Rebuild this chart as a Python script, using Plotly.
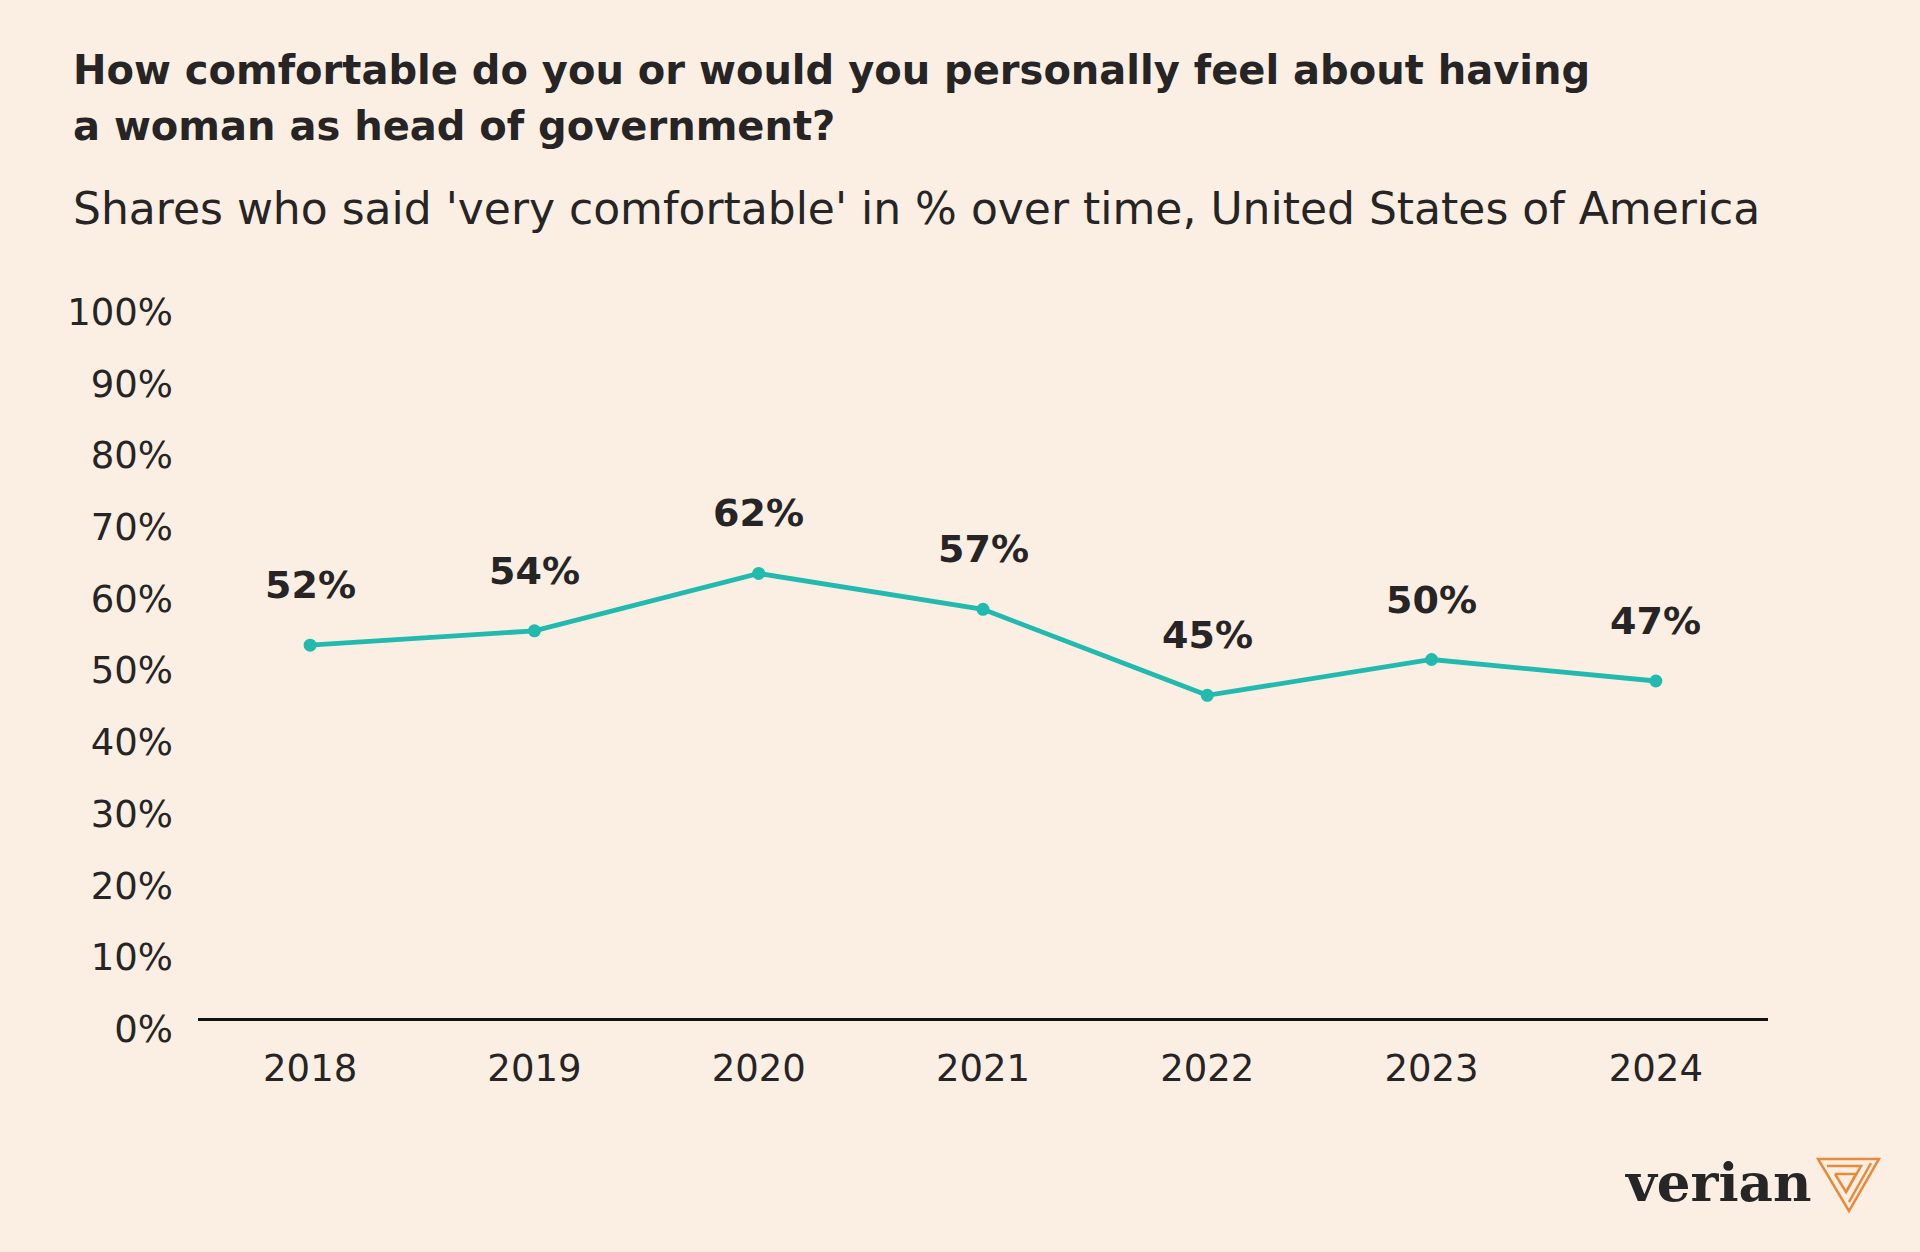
import plotly.graph_objects as go

years = ["2018", "2019", "2020", "2021", "2022", "2023", "2024"]
very_comfortable = [52, 54, 62, 57, 45, 50, 47]
y_ticks = [0, 10, 20, 30, 40, 50, 60, 70, 80, 90, 100]
y_tick_labels = [f"{v}%" for v in y_ticks]
value_labels = [f"{v}%" for v in very_comfortable]

title_line1 = "How comfortable do you or would you personally feel about having"
title_line2 = "a woman as head of government?"
subtitle = "Shares who said 'very comfortable' in % over time, United States of America"

BG = "#FBEFE3"
TEXT = "#262424"
TEAL = "#22B9AE"
ORANGE = "#E98A3B"
FONT = "DejaVu Sans"

W, H = 1920, 1252
L, R, T, B = 198, 152, 301, 234
PW, PH = W - L - R, H - T - B


def px(x):
    return (x - L) / PW


def py(y):
    return (H - B - y) / PH


fig = go.Figure()
fig.add_trace(go.Scatter(
    x=years, y=very_comfortable, mode="lines+markers",
    line=dict(color=TEAL, width=4.8),
    marker=dict(color=TEAL, size=13),
    hoverinfo="skip", showlegend=False,
))

annotations = []
for i, (v, lab) in enumerate(zip(very_comfortable, value_labels)):
    annotations.append(dict(
        x=i, y=v, xref="x", yref="y", text=f"<b>{lab}</b>", showarrow=False,
        yshift=60, font=dict(family=FONT, size=38, color=TEXT),
        xanchor="center", yanchor="middle",
    ))

annotations += [
    dict(x=px(71), y=py(70), xref="paper", yref="paper", text=f"<b>{title_line1}</b>",
         showarrow=False, xanchor="left", yanchor="middle",
         font=dict(family=FONT, size=40, color=TEXT)),
    dict(x=px(71), y=py(126), xref="paper", yref="paper", text=f"<b>{title_line2}</b>",
         showarrow=False, xanchor="left", yanchor="middle",
         font=dict(family=FONT, size=40, color=TEXT)),
    dict(x=px(71), y=py(208), xref="paper", yref="paper", text=subtitle,
         showarrow=False, xanchor="left", yanchor="middle",
         font=dict(family=FONT, size=44, color=TEXT)),
    dict(x=px(1813), y=py(1182), xref="paper", yref="paper", text="<b>verian</b>",
         showarrow=False, xanchor="right", yanchor="middle",
         font=dict(family="DejaVu Serif", size=53, color="#262626")),
]


def path(pts, close=True):
    s = "M " + " L ".join(f"{px(x):.5f},{py(y):.5f}" for x, y in pts)
    return s + (" Z" if close else "")


icon_line = dict(color=ORANGE, width=2.5)
shapes = [
    dict(type="path", xref="paper", yref="paper",
         path=path([(1818, 1159), (1879, 1159), (1849, 1211)]),
         line=icon_line, fillcolor="rgba(0,0,0,0)"),
    dict(type="path", xref="paper", yref="paper",
         path=path([(1827, 1166), (1861, 1166), (1846, 1192)], close=False),
         line=icon_line),
    dict(type="path", xref="paper", yref="paper",
         path=path([(1871, 1163), (1849, 1202)], close=False),
         line=icon_line),
    dict(type="path", xref="paper", yref="paper",
         path=path([(1835, 1174), (1856, 1174), (1846, 1192), (1835, 1174)], close=False),
         line=icon_line),
]

fig.update_layout(
    width=W, height=H,
    paper_bgcolor=BG, plot_bgcolor=BG,
    margin=dict(l=L, r=R, t=T, b=B, autoexpand=False),
    annotations=annotations, shapes=shapes,
    xaxis=dict(
        type="category", range=[-0.5, 6.5], showgrid=False, zeroline=False,
        showline=True, linecolor="#111111", linewidth=3, ticks="",
        tickfont=dict(family=FONT, size=37, color=TEXT),
        ticklabelstandoff=16,
    ),
    yaxis=dict(
        range=[0, 100], tickvals=y_ticks, ticktext=y_tick_labels,
        showgrid=False, zeroline=False, showline=False, ticks="",
        tickfont=dict(family=FONT, size=37, color=TEXT),
        ticklabelstandoff=24, ticklabelshift=11,
    ),
)

fig.write_html(
    "out.html",
    config={"displayModeBar": False},
    post_script="document.body.style.margin='0';document.body.style.overflow='hidden';",
)
